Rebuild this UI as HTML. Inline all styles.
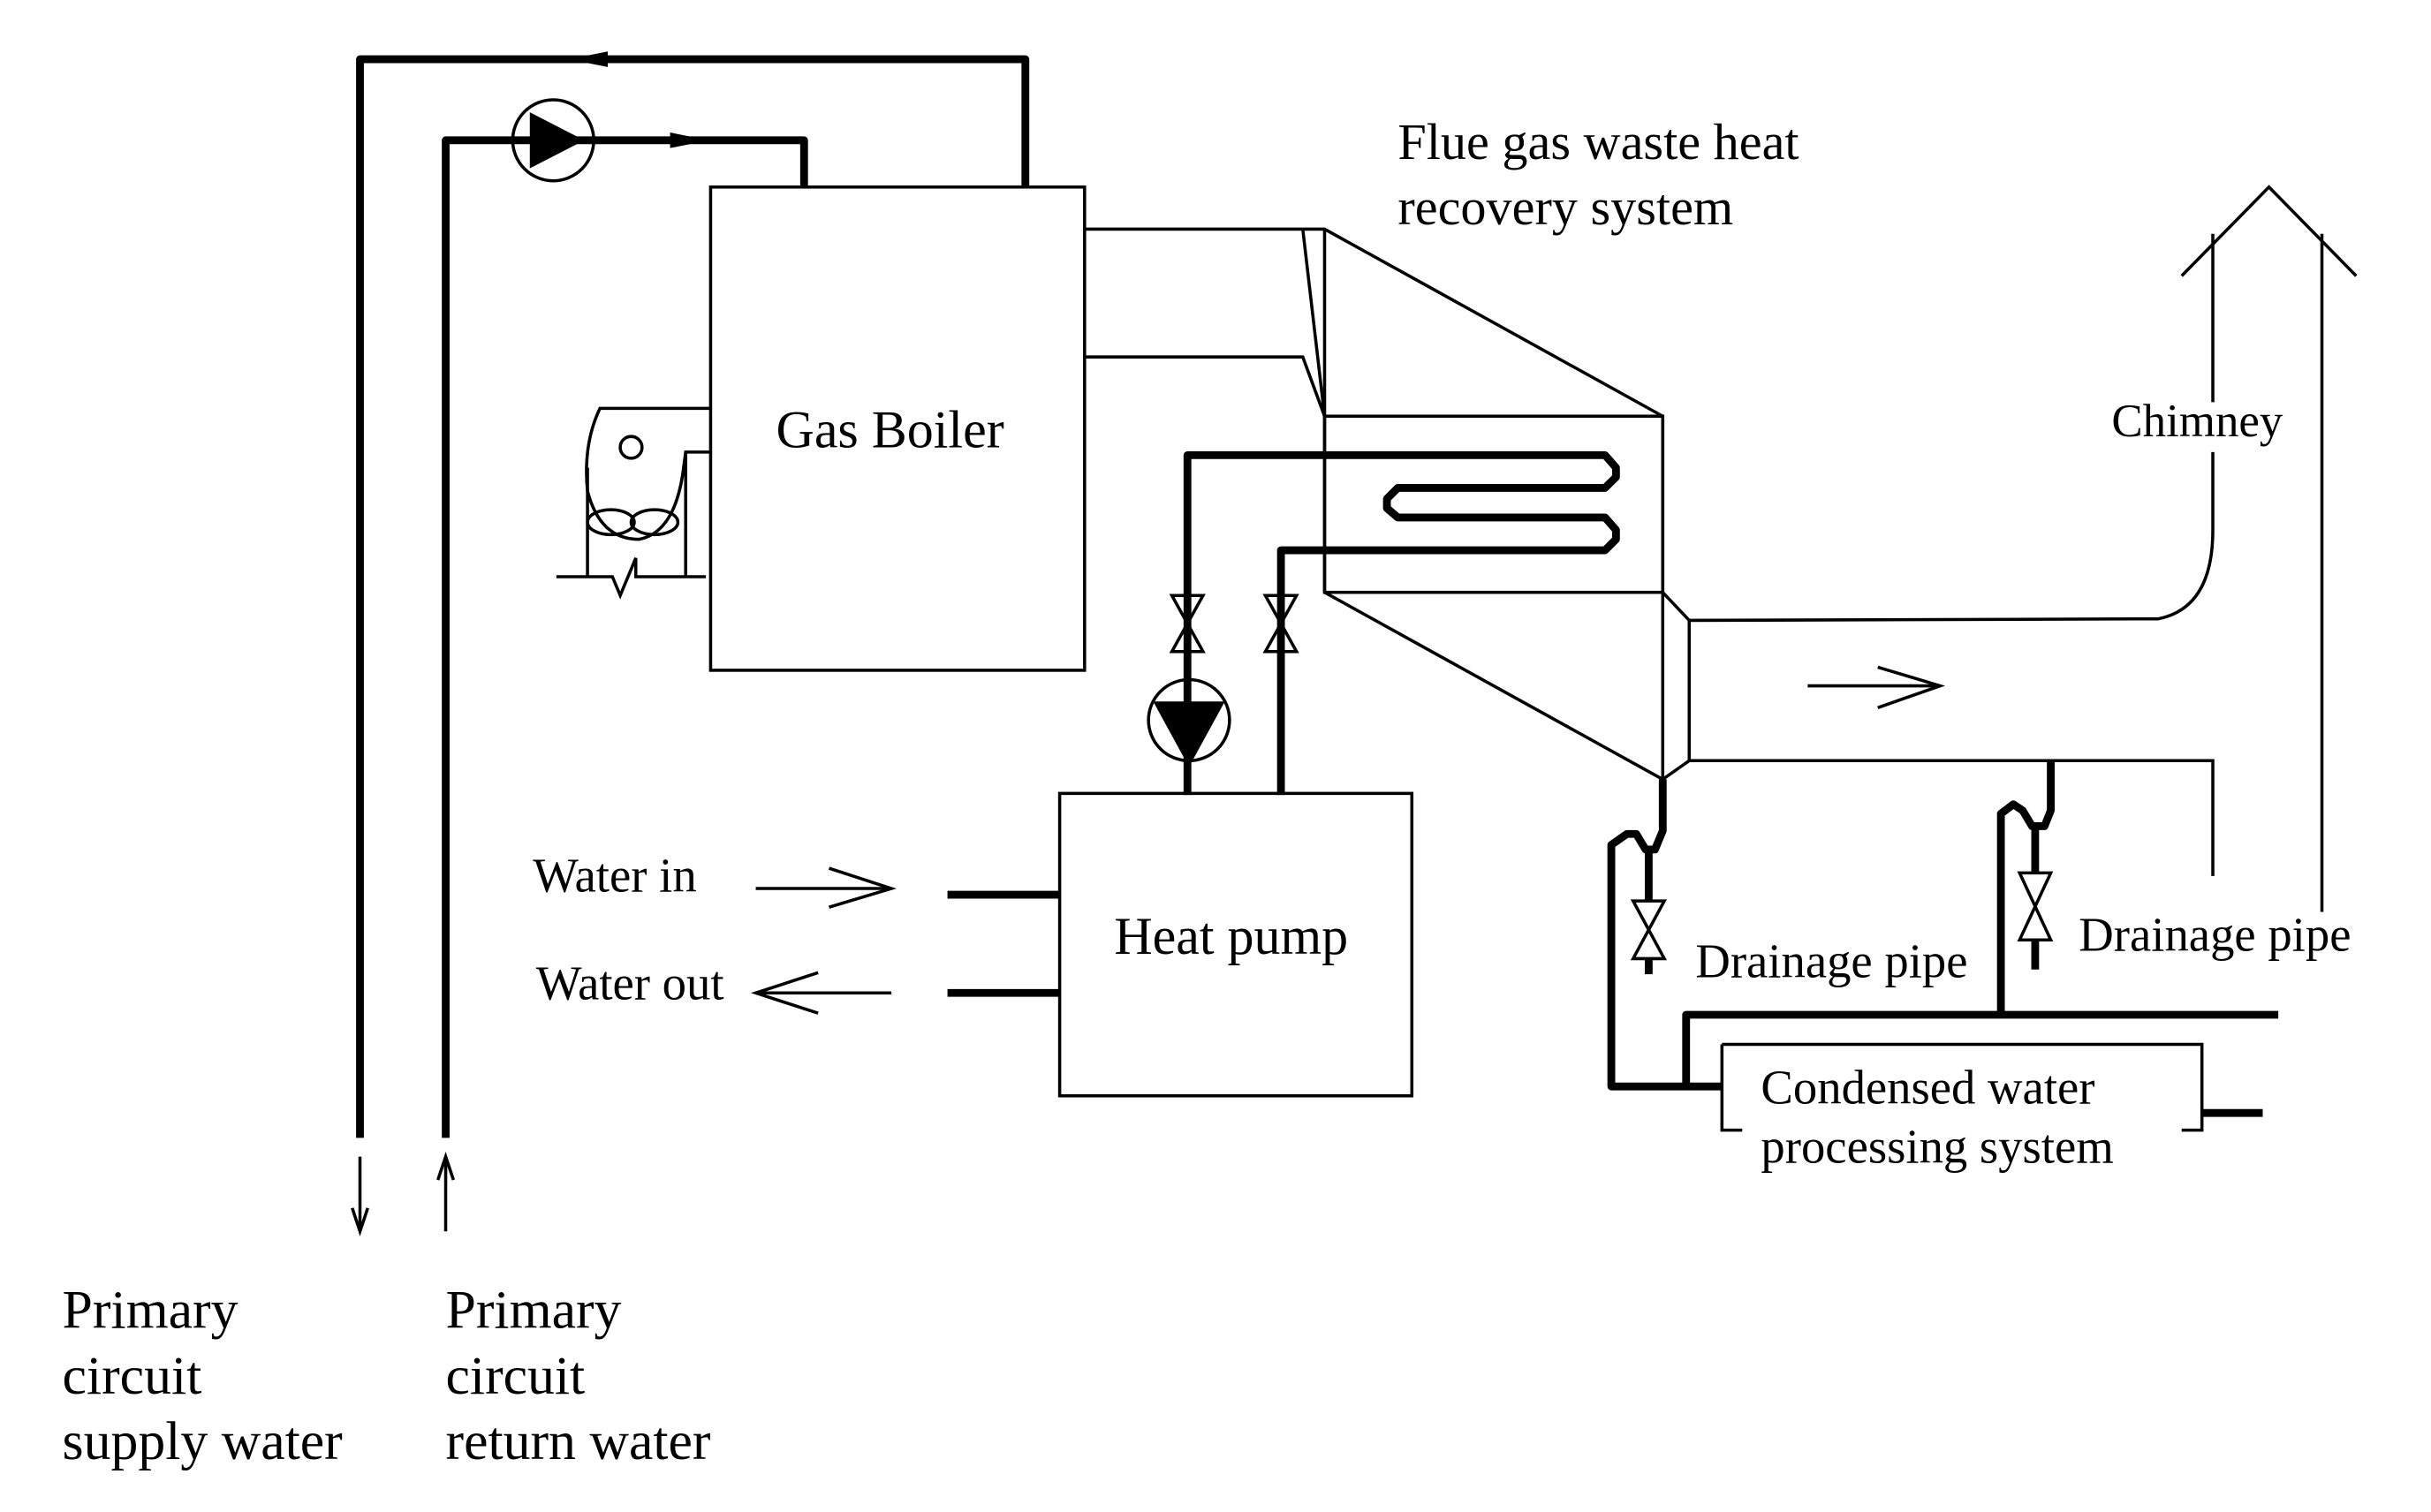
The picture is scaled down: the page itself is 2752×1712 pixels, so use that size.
<!DOCTYPE html>
<html><head><meta charset="utf-8"><style>
html,body{margin:0;padding:0;background:#fff;}
svg{display:block;}
text{font-family:"Liberation Serif",serif;fill:#000;font-size:34px;}
</style></head><body>
<svg width="2752" height="1712" viewBox="0 0 1560 970" preserveAspectRatio="none" xmlns="http://www.w3.org/2000/svg">
<g fill="none" stroke="#000" stroke-width="5" stroke-linejoin="round">
<polyline points="231,730 231,38 658,38 658,120"/>
<polyline points="286,730 286,90 516,90 516,120"/>
<polyline points="762,510 762,292 1030,292 1037,300 1037,306 1030,313 897,313 890,320 890,326 897,332 1030,332 1037,340 1037,346 1030,353 822,353 822,510"/>
<line x1="608" y1="574" x2="680" y2="574"/>
<line x1="608" y1="637" x2="680" y2="637"/>
<polyline points="1067,500 1067,533 1062,545 1056,545 1050,535 1044,535 1034,542 1034,697 1105,697"/>
<polyline points="1082,697 1082,651 1462,651"/>
<polyline points="1316,488 1316,520 1312,530 1304,530 1298,520 1292,516 1284,522 1284,651"/>
<line x1="1058" y1="545" x2="1058" y2="578"/>
<line x1="1058" y1="615" x2="1058" y2="625"/>
<line x1="1306" y1="530" x2="1306" y2="560"/>
<line x1="1306" y1="603" x2="1306" y2="622"/>
<line x1="1413" y1="714" x2="1452" y2="714"/>
</g>
<g fill="none" stroke="#000" stroke-width="2">
<rect x="456" y="120" width="240" height="310"/>
<rect x="680" y="509" width="226" height="194"/>
<circle cx="355" cy="90" r="26"/>
<circle cx="763" cy="462" r="26"/>
<polyline points="696,147 850,147 1067,267"/>
<polyline points="696,229 836,229 850,267"/>
<line x1="836" y1="147" x2="850" y2="267"/>
<line x1="850" y1="147" x2="850" y2="380"/>
<rect x="850" y="267" width="217" height="113"/>
<line x1="850" y1="380" x2="1067" y2="500"/>
<line x1="1067" y1="267" x2="1067" y2="500"/>
<polyline points="1067,380 1084,398 1084,488 1067,500"/>
<path d="M1084,398 L1385,397 Q1420,390 1420,340 L1420,150"/>
<polyline points="1084,488 1420,488 1420,562"/>
<polyline points="1400,177 1456,120 1512,177"/>
<line x1="1490" y1="150" x2="1490" y2="585"/>
<polyline points="1105,670 1413,670 1413,725 1400,725"/>
<polyline points="1105,670 1105,725 1118,725"/>
<line x1="1160" y1="440" x2="1245" y2="440"/><polyline points="1205,428 1245,440 1205,454"/>
<line x1="485" y1="570" x2="572" y2="570"/><polyline points="532,557 572,570 532,582"/>
<line x1="485" y1="637" x2="572" y2="637"/><polyline points="525,624 485,637 525,650"/>
<line x1="231" y1="742" x2="231" y2="790"/><polyline points="226,775 231,790 236,775"/>
<line x1="286" y1="742" x2="286" y2="790"/><polyline points="281,757 286,742 291,757"/>
<polygon points="752,382 772,382 752,418 772,418"/>
<polygon points="812,382 832,382 812,418 832,418"/>
<polygon points="1048,578 1068,578 1048,615 1068,615"/>
<polygon points="1296,560 1316,560 1296,603 1316,603"/>
<path d="M456,262 L385,262 Q374,285 377,315 Q385,346 410,346 Q432,342 438,305 L440,290 L456,290"/>
<circle cx="405" cy="287" r="7"/>
<line x1="377" y1="300" x2="377" y2="370"/>
<line x1="440" y1="290" x2="440" y2="370"/>
<ellipse cx="392" cy="335" rx="15" ry="8"/>
<ellipse cx="420" cy="335" rx="15" ry="8"/>
<polyline points="357,370 393,370 398,382 408,358 408,370 453,370"/>
</g>
<polygon points="340,72 340,108 375,90" fill="#000"/>
<polygon points="740,450 786,450 763,492" fill="#000"/>
<polygon points="390,33 365,38 390,43" fill="#000"/>
<polygon points="430,85 455,90 430,95" fill="#000"/>
<rect x="1352" y="258" width="122" height="32" fill="#fff"/>
<text x="498" y="287">Gas Boiler</text>
<text x="715" y="612">Heat pump</text>
<text x="342" y="572" style="font-size:31px">Water in</text>
<text x="344" y="641" style="font-size:31px">Water out</text>
<text x="897" y="102" style="font-size:33px">Flue gas waste heat</text>
<text x="897" y="144" style="font-size:33px">recovery system</text>
<text x="1355" y="280" style="font-size:30px">Chimney</text>
<text x="1088" y="627" style="font-size:31px">Drainage pipe</text>
<text x="1334" y="610" style="font-size:31px">Drainage pipe</text>
<text x="1130" y="708" style="font-size:31px">Condensed water</text>
<text x="1130" y="746" style="font-size:31px">processing system</text>
<text x="40" y="852" style="font-size:35px">Primary</text>
<text x="40" y="894" style="font-size:35px">circuit</text>
<text x="40" y="936" style="font-size:35px">supply water</text>
<text x="286" y="852" style="font-size:35px">Primary</text>
<text x="286" y="894" style="font-size:35px">circuit</text>
<text x="286" y="936" style="font-size:35px">return water</text>
</svg>
</body></html>
